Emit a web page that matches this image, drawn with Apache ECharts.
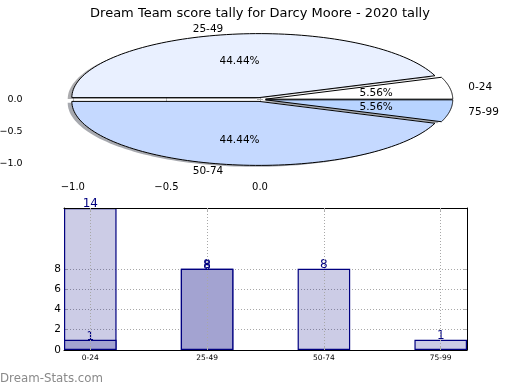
<!DOCTYPE html>
<html>
<head>
<meta charset="utf-8">
<script src="https://cdn.jsdelivr.net/npm/echarts@6/dist/echarts.min.js"></script>
<style>
html,body{margin:0;padding:0;background:#fff;}
#chart{width:520px;height:390px;}
</style>
</head>
<body>
<div id="chart"></div>
<script>
// ---- data ----
const titleText = 'Dream Team score tally for Darcy Moore - 2020 tally';
const pieLabels = ['0-24', '25-49', '50-74', '75-99'];
const pieCounts = [1, 8, 8, 1];
const pieTicks = [-1.0, -0.5, 0.0];
const barCategories = ['0-24', '25-49', '50-74', '75-99'];
const barLight = [14, 8, 8, 1];
const barDark = [1, 8, null, null];
const barYTicks = [0, 2, 4, 6, 8];
const watermark = 'Dream-Stats.com';

// ---- styles ----
const FONT = 'DejaVu Sans';
const pieColors = ['#ffffff', '#e9f0ff', '#c5d9ff', '#b8d4ff'];
const EXPLODE = 0.03;
const SHADOW_OFF = -0.022;
const LIM = 1.25;

const total = pieCounts.reduce((a, b) => a + b, 0);
function geom(i) {
  let start = 0;
  for (let j = 0; j < i; j++) start += pieCounts[j];
  const t1 = start / total * 2 * Math.PI;
  const t2 = (start + pieCounts[i]) / total * 2 * Math.PI;
  const mid = (t1 + t2) / 2;
  return { t1, t2, mid, cx: EXPLODE * Math.cos(mid), cy: EXPLODE * Math.sin(mid) };
}
function wedgePoints(api, g, ox, oy) {
  const pts = [api.coord([g.cx + ox, g.cy + oy])];
  const n = 90;
  for (let k = 0; k <= n; k++) {
    const t = g.t1 + (g.t2 - g.t1) * k / n;
    pts.push(api.coord([g.cx + ox + Math.cos(t), g.cy + oy + Math.sin(t)]));
  }
  return pts;
}
function shade(hex) {
  const r = parseInt(hex.slice(1, 3), 16), gg = parseInt(hex.slice(3, 5), 16), b = parseInt(hex.slice(5, 7), 16);
  return 'rgba(' + Math.round(r * 0.3) + ',' + Math.round(gg * 0.3) + ',' + Math.round(b * 0.3) + ',0.45)';
}
const fmtTick = v => v.toFixed(1).replace('-', '\u2212');

const chart = echarts.init(document.getElementById('chart'), null, { renderer: 'canvas' });

const tickStyle = { show: true, inside: true, length: 3, lineStyle: { color: '#b0b0b0', width: 1 } };
const barW = 0.45 * 403 / 3.45;

const option = {
  animation: false,
  backgroundColor: '#ffffff',
  textStyle: { fontFamily: FONT },
  title: {
    text: titleText, left: 'center', top: 2,
    textStyle: { fontFamily: FONT, fontSize: 13, fontWeight: 'normal', color: '#000' }
  },
  graphic: [{
    type: 'text', left: 0, top: 373,
    style: { text: watermark, fill: '#8a8a8a', font: '11.8px "DejaVu Sans"' }
  }],
  grid: [
    { left: 26, width: 468, top: 19.5, height: 160, containLabel: false, outerBoundsMode: 'none' },
    { left: 64, width: 403, top: 208, height: 142, containLabel: false, outerBoundsMode: 'none' }
  ],
  xAxis: [
    { gridIndex: 0, type: 'value', min: -LIM, max: LIM, position: 'bottom',
      axisLine: { show: false }, splitLine: { show: false },
      axisTick: Object.assign({ customValues: pieTicks }, tickStyle),
      axisLabel: { customValues: pieTicks, formatter: fmtTick, fontSize: 10, color: '#000', margin: 3, fontFamily: FONT } },
    { gridIndex: 0, type: 'value', min: -LIM, max: LIM, position: 'top',
      axisLine: { show: false }, splitLine: { show: false },
      axisTick: Object.assign({ customValues: pieTicks }, tickStyle),
      axisLabel: { show: false } },
    { gridIndex: 1, type: 'value', min: -0.225, max: 3.225, position: 'bottom', z: 5,
      axisLine: { show: true, onZero: false, lineStyle: { color: '#000', width: 1 } },
      splitLine: { show: true, lineStyle: { color: '#a8a8a8', type: [1, 2], width: 1 } },
      axisTick: Object.assign({ customValues: [0, 1, 2, 3] }, tickStyle),
      axisLabel: { customValues: [0, 1, 2, 3], formatter: v => barCategories[Math.round(v)], fontSize: 7.5, color: '#000', margin: 4, fontFamily: FONT } },
    { gridIndex: 1, type: 'value', min: -0.225, max: 3.225, position: 'top', z: 5,
      axisLine: { show: true, onZero: false, lineStyle: { color: '#000', width: 1 } },
      splitLine: { show: false },
      axisTick: Object.assign({ customValues: [0, 1, 2, 3] }, tickStyle),
      axisLabel: { show: false } }
  ],
  yAxis: [
    { gridIndex: 0, type: 'value', min: -LIM, max: LIM, position: 'left',
      axisLine: { show: false }, splitLine: { show: false },
      axisTick: Object.assign({ customValues: pieTicks }, tickStyle),
      axisLabel: { customValues: pieTicks, formatter: fmtTick, fontSize: 9.5, color: '#000', margin: 3.5, fontFamily: FONT } },
    { gridIndex: 0, type: 'value', min: -LIM, max: LIM, position: 'right',
      axisLine: { show: false }, splitLine: { show: false },
      axisTick: Object.assign({ customValues: pieTicks }, tickStyle),
      axisLabel: { show: false } },
    { gridIndex: 1, type: 'value', min: 0, max: 14, position: 'left',
      axisLine: { show: true, onZero: false, lineStyle: { color: '#000', width: 1 } },
      splitLine: { show: true, lineStyle: { color: '#a8a8a8', type: [1, 2], width: 1 } },
      axisTick: Object.assign({ customValues: barYTicks }, tickStyle),
      axisLabel: { customValues: barYTicks, fontSize: 10.5, color: '#000', margin: 3, fontFamily: FONT } },
    { gridIndex: 1, type: 'value', min: 0, max: 14, position: 'right',
      axisLine: { show: true, onZero: false, lineStyle: { color: '#000', width: 1 } },
      splitLine: { show: false },
      axisTick: Object.assign({ customValues: barYTicks }, tickStyle),
      axisLabel: { show: false } }
  ],
  series: [
    { type: 'custom', xAxisIndex: 0, yAxisIndex: 0, z: 1, silent: true,
      data: pieCounts,
      renderItem: function (params, api) {
        const g = geom(params.dataIndex);
        return { type: 'polygon', shape: { points: wedgePoints(api, g, SHADOW_OFF, SHADOW_OFF) },
          style: { fill: shade(pieColors[params.dataIndex]), stroke: null } };
      } },
    { type: 'custom', xAxisIndex: 0, yAxisIndex: 0, z: 2, silent: true,
      data: pieCounts,
      renderItem: function (params, api) {
        const i = params.dataIndex;
        const g = geom(i);
        const lx = g.cx + 1.1 * Math.cos(g.mid), ly = g.cy + 1.1 * Math.sin(g.mid);
        const px = g.cx + 0.6 * Math.cos(g.mid), py = g.cy + 0.6 * Math.sin(g.mid);
        const lp = api.coord([lx, ly]), pp = api.coord([px, py]);
        const pct = (pieCounts[i] / total * 100).toFixed(2) + '%';
        return { type: 'group', children: [
          { type: 'polygon', shape: { points: wedgePoints(api, g, 0, 0) },
            style: { fill: pieColors[i], stroke: '#000', lineWidth: 1 } },
          { type: 'text', z2: 10, style: { text: pieLabels[i], x: lp[0], y: lp[1] + 0.5,
            align: lx > 0 ? 'left' : 'right', verticalAlign: 'middle',
            font: '10.5px "DejaVu Sans"', fill: '#000' } },
          { type: 'text', z2: 10, style: { text: pct, x: pp[0], y: pp[1] + 1,
            align: 'center', verticalAlign: 'middle',
            font: '10.5px "DejaVu Sans"', fill: '#000' } }
        ] };
      } },
    { type: 'bar', xAxisIndex: 2, yAxisIndex: 2, barWidth: barW, barGap: '-100%',
      data: barLight.map((v, i) => [i, v]),
      itemStyle: { color: 'rgba(0,0,128,0.2)', borderColor: '#000080', borderWidth: 1.2 },
      label: { show: true, position: 'top', distance: -2, color: '#000080', fontSize: 12, fontFamily: FONT } },
    { type: 'bar', xAxisIndex: 2, yAxisIndex: 2, barWidth: barW, barGap: '-100%',
      data: barDark.map((v, i) => [i, v]).filter(d => d[1] != null),
      itemStyle: { color: '#a3a3d1', borderColor: '#000080', borderWidth: 1.2 },
      label: { show: true, position: 'top', distance: -3.5, color: '#000080', fontSize: 12, fontFamily: FONT } }
  ]
};
chart.setOption(option);
</script>
</body>
</html>
